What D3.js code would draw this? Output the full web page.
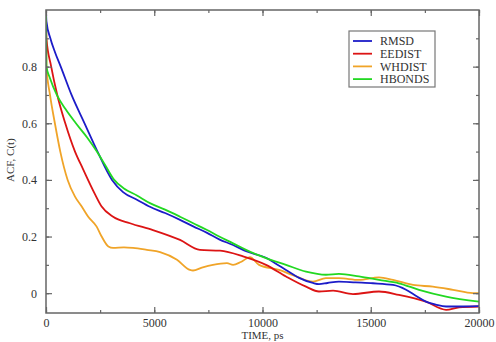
<!DOCTYPE html>
<html>
<head>
<meta charset="utf-8">
<script src="https://cdn.jsdelivr.net/npm/d3@7"></script>
<style>
  body { margin: 0; background: #fff; }
  text { font-family: "Liberation Serif", "DejaVu Serif", serif; fill: #333; }
</style>
</head>
<body>
<script>
// ACF curves (time in ps, C(t))
var seriesNames = ["RMSD", "EEDIST", "WHDIST", "HBONDS"];
var seriesColors = ["#1c1cc8", "#dc1414", "#f0a428", "#22d822"];

var rmsd = [[0,1],[20,0.96],[200,0.9],[420,0.85],[680,0.8],[1180,0.7],[1780,0.6],[2380,0.5],[3050,0.4],
  [3560,0.357],[4200,0.33],[4800,0.305],[5500,0.283],[6190,0.259],[6800,0.236],[7440,0.213],[8000,0.19],
  [8640,0.17],[9240,0.148],[10160,0.125],[10600,0.105],[11085,0.082],[11690,0.054],[12330,0.036],
  [12610,0.032],[13000,0.036],[13530,0.041],[14300,0.038],[15100,0.035],[16030,0.029],[16630,0.012],
  [17100,-0.01],[17550,-0.03],[18000,-0.04],[18480,-0.047],[19260,-0.047],[20000,-0.046]];

var eedist = [[0,1],[20,0.9],[240,0.8],[520,0.7],[890,0.6],[1340,0.5],[1700,0.44],[2260,0.35],
  [2570,0.306],[3100,0.27],[3880,0.247],[4940,0.223],[6190,0.188],[7110,0.153],[8040,0.15],[9100,0.13],
  [10160,0.1],[11085,0.059],[12010,0.023],[12610,0.006],[13260,0.009],[14180,-0.003],[15380,0.006],
  [16300,-0.006],[17550,-0.03],[18480,-0.059],[19080,-0.05],[20000,-0.047]];

var whdist = [[0,1],[20,0.8],[185,0.7],[410,0.6],[660,0.5],[1000,0.4],[1340,0.341],[1650,0.306],
  [1950,0.27],[2340,0.235],[2570,0.2],[2880,0.165],[3100,0.16],[3600,0.162],[4020,0.16],[4660,0.153],
  [5270,0.145],[6050,0.118],[6650,0.082],[6790,0.08],[7200,0.09],[7710,0.1],[8360,0.106],[8640,0.1],
  [9000,0.11],[9420,0.127],[9840,0.1],[10760,0.082],[11550,0.059],[12330,0.041],[12930,0.053],
  [13530,0.053],[14460,0.047],[15380,0.056],[16030,0.047],[16950,0.029],[17870,0.023],[18800,0.012],
  [19720,0.0],[20000,0.0]];

var hbonds = [[0,1],[20,0.8],[180,0.76],[500,0.7],[900,0.65],[1380,0.6],[1900,0.55],[2350,0.5],[2750,0.45],
  [3150,0.4],[3600,0.37],[4200,0.345],[4800,0.318],[5500,0.295],[6190,0.27],[6800,0.247],[7440,0.223],
  [8000,0.2],[8640,0.176],[9240,0.153],[10160,0.124],[11085,0.1],[12010,0.076],[12930,0.065],
  [13530,0.068],[14460,0.059],[15380,0.047],[16300,0.035],[17230,0.012],[18480,-0.012],[20000,-0.03]];

var allSeries = [rmsd, eedist, whdist, hbonds];

var xTicks = [0, 5000, 10000, 15000, 20000];
var yTicks = [0, 0.2, 0.4, 0.6, 0.8];

var width = 496, height = 342;
var margin = {left: 46, top: 10, right: 17, bottom: 29};

var svg = d3.select("body").append("svg")
  .attr("width", width).attr("height", height);

var xScale = d3.scaleLinear().domain([0, 20000]).range([margin.left, width - margin.right]);
var yScale = d3.scaleLinear().domain([-0.07, 1.0]).range([height - margin.bottom, margin.top]);

var plotH = height - margin.bottom - margin.top;
var plotW = width - margin.right - margin.left;

// curves first, frame on top
var line = d3.line()
  .curve(d3.curveMonotoneX)
  .x(function (d) { return xScale(d[0]); })
  .y(function (d) { return yScale(d[1]); });

svg.append("clipPath").attr("id", "plotclip")
  .append("rect")
    .attr("x", margin.left).attr("y", margin.top)
    .attr("width", plotW).attr("height", plotH);

// green drawn last, it sits over blue in the picture
var order = [2, 1, 0, 3];
svg.append("g").attr("clip-path", "url(#plotclip)")
  .selectAll("path")
  .data(order).enter()
  .append("path")
    .attr("d", function (i) { return line(allSeries[i]); })
    .attr("fill", "none")
    .attr("stroke", function (i) { return seriesColors[i]; })
    .attr("stroke-width", 1.8)
    .attr("stroke-linejoin", "round");

var axisColor = "#666";
var minorX = d3.range(0, 20001, 2500);
var minorY = d3.range(0, 1.0, 0.1);

function styleAxis(g) {
  g.select(".domain").remove();
  g.selectAll(".tick line").attr("stroke", axisColor).attr("stroke-width", 1.2);
  g.selectAll("text").style("font-family", "Liberation Serif, serif").style("font-size", "12px").attr("fill", "#333");
}

// bottom axis, ticks inward
svg.append("g").attr("transform", "translate(0," + (height - margin.bottom) + ")")
  .call(d3.axisBottom(xScale).tickValues(minorX).tickSize(-3).tickFormat(""))
  .call(styleAxis);
svg.append("g").attr("transform", "translate(0," + (height - margin.bottom) + ")")
  .call(d3.axisBottom(xScale).tickValues(xTicks).tickSize(-6).tickPadding(5).tickFormat(d3.format("d")))
  .call(styleAxis);

// top axis
svg.append("g").attr("transform", "translate(0," + margin.top + ")")
  .call(d3.axisTop(xScale).tickValues(minorX).tickSize(-3).tickFormat(""))
  .call(styleAxis);
svg.append("g").attr("transform", "translate(0," + margin.top + ")")
  .call(d3.axisTop(xScale).tickValues(xTicks).tickSize(-6).tickFormat(""))
  .call(styleAxis);

// left axis
svg.append("g").attr("transform", "translate(" + margin.left + ",0)")
  .call(d3.axisLeft(yScale).tickValues(minorY).tickSize(-3).tickFormat(""))
  .call(styleAxis);
svg.append("g").attr("transform", "translate(" + margin.left + ",0)")
  .call(d3.axisLeft(yScale).tickValues(yTicks).tickSize(-6).tickPadding(9)
    .tickFormat(function (d) { return d === 0 ? "0" : d3.format(".1f")(d); }))
  .call(styleAxis);

// right axis
svg.append("g").attr("transform", "translate(" + (width - margin.right) + ",0)")
  .call(d3.axisRight(yScale).tickValues(minorY).tickSize(-3).tickFormat(""))
  .call(styleAxis);
svg.append("g").attr("transform", "translate(" + (width - margin.right) + ",0)")
  .call(d3.axisRight(yScale).tickValues(yTicks).tickSize(-6).tickFormat(""))
  .call(styleAxis);

svg.append("rect")
  .attr("x", margin.left).attr("y", margin.top)
  .attr("width", plotW).attr("height", plotH)
  .attr("fill", "none").attr("stroke", axisColor).attr("stroke-width", 1.5);

// axis titles
svg.append("text")
  .attr("x", xScale(10000)).attr("y", 339)
  .attr("text-anchor", "middle")
  .style("font-size", "11px")
  .text("TIME, ps");

svg.append("text")
  .attr("transform", "translate(14," + yScale(0.47) + ") rotate(-90)")
  .attr("text-anchor", "middle")
  .style("font-size", "11px")
  .text("ACF, C(t)");

// legend
var legend = svg.append("g").attr("transform", "translate(349,31)");
legend.append("rect")
  .attr("width", 86).attr("height", 56)
  .attr("fill", "#fff").attr("stroke", "#777").attr("stroke-width", 1.2);

var items = legend.selectAll(".item")
  .data(seriesNames).enter()
  .append("g")
    .attr("class", "item")
    .attr("transform", function (d, i) { return "translate(0," + (10 + i * 12.7) + ")"; });
items.append("line")
  .attr("x1", 4).attr("x2", 23)
  .attr("stroke", function (d, i) { return seriesColors[i]; })
  .attr("stroke-width", 1.8);
items.append("text")
  .attr("x", 31).attr("dy", "0.35em")
  .style("font-size", "12px")
  .attr("fill", "#333")
  .text(function (d) { return d; });
</script>
</body>
</html>
